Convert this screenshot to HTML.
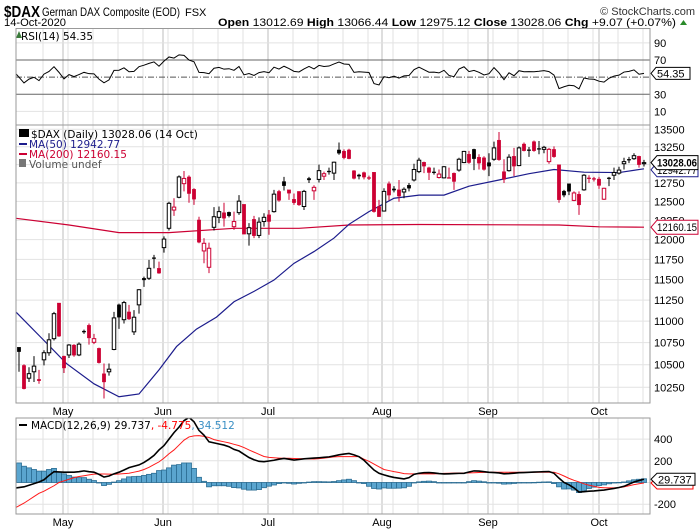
<!DOCTYPE html>
<html><head><meta charset="utf-8"><style>
body{margin:0;background:#fff;}
svg{display:block;font-family:"Liberation Sans",Arial,sans-serif;}
</style></head><body>
<svg id="chart" width="700" height="530" viewBox="0 0 700 530" xmlns="http://www.w3.org/2000/svg">
<g>
<text x="4" y="17" font-size="16" font-weight="bold" textLength="36" lengthAdjust="spacingAndGlyphs">$DAX</text>
<text x="42" y="16" font-size="12" textLength="138" lengthAdjust="spacingAndGlyphs">German DAX Composite (EOD)</text>
<text x="185" y="16" font-size="11">FSX</text>
<text x="695" y="15" font-size="11" text-anchor="end" fill="#333">© StockCharts.com</text>
<text x="4" y="26" font-size="11" textLength="62" lengthAdjust="spacingAndGlyphs">14-Oct-2020</text>
<text x="218" y="26" font-size="11" textLength="458" lengthAdjust="spacingAndGlyphs"><tspan font-weight="bold">Open</tspan> 13012.69 <tspan font-weight="bold">High</tspan> 13066.44 <tspan font-weight="bold">Low</tspan> 12975.12 <tspan font-weight="bold">Close</tspan> 13028.06 <tspan font-weight="bold">Chg</tspan> +9.07 (+0.07%)</text>
<path d="M680,25 L687,25 L683.5,20 Z" fill="#2a8a2a"/>
</g>
<g id="grid"></g>
<g id="rsi"></g>
<g id="main"></g>
<g id="macd"></g>
<g id="frames"></g>
</svg>
<script>
// ---- data ----
const opens=[10698,10492,10350,10421,10337,10555,10635,10796,11215,10597,10610,10723,10610,10884,10951,10754,10685,10400,10421,10672,11193,11017,11109,10875,11193,11515,11515,11772,11638,11898,12146,12385,12555,12739,12831,12663,12255,11856,11651,12159,12289,12351,12356,12167,12351,12461,12075,12263,12054,12234,12322,12364,12634,12768,12655,12529,12634,12432,12810,12642,12797,12841,12912,12883,13206,13189,13206,12917,12858,12891,12823,12896,12432,12372,12739,12668,12655,12626,12718,12789,12904,13034,12958,12900,12823,12818,12823,12883,12925,13029,13146,13214,13104,13096,13029,13075,13345,12904,12917,13117,12987,13290,13210,13324,13227,13214,13042,13214,13000,12638,12739,12513,12597,12655,12818,12810,12802,12529,12818,12854,12883,13013,13075,13083,13117,13012.69];
const highs=[10698,10505,10471,10597,10442,10664,10859,11109,11215,10601,10733,10733,10754,10901,10972,10851,10693,10513,10513,11109,11207,11241,11193,11130,11383,11536,11743,11806,11722,12041,12495,12542,12852,12912,12852,12676,12297,12020,11961,12424,12432,12482,12364,12364,12584,12461,12213,12309,12289,12343,12385,12655,12655,12831,12655,12605,12634,12655,12831,12718,13000,12904,12958,13042,13311,13214,13222,12925,12875,12904,12849,12896,12521,12676,12768,12705,12789,12689,12747,13013,13096,13042,12971,12958,12933,12979,12958,12891,13096,13193,13193,13222,13146,13117,13159,13324,13462,13075,13146,13235,13256,13311,13248,13340,13332,13264,13235,13256,13000,12655,12739,12634,12634,12870,12854,12831,12831,12684,12831,12958,12971,13096,13109,13159,13125,13066.44];
const lows=[10421,10227,10308,10308,10288,10492,10601,10775,10817,10408,10576,10589,10597,10851,10727,10733,10513,10128,10379,10664,10909,10972,11014,10838,11088,11410,11494,11638,11570,11835,12117,12309,12542,12634,12482,12453,11953,11701,11578,12117,12213,12167,12289,12125,12322,12070,11924,12020,12020,12167,12062,12351,12495,12647,12521,12453,12440,12385,12747,12521,12755,12789,12862,12789,13138,13075,13075,12797,12797,12797,12789,12351,12297,12364,12513,12621,12495,12542,12634,12768,12883,12883,12789,12862,12810,12810,12810,12655,12904,13021,13013,12925,12933,12917,12841,13054,13054,12747,12904,12841,12979,13185,13109,13180,13146,13159,13013,13096,12482,12555,12584,12503,12322,12642,12747,12768,12668,12521,12705,12789,12862,12933,13021,13067,12958,12975.12];
const closes=[10647,10233,10400,10484,10321,10635,10783,11088,10825,10463,10723,10606,10733,10872,10804,10796,10522,10308,10450,11038,11046,11220,11025,11046,11375,11494,11638,11760,11578,12007,12474,12424,12831,12810,12605,12529,11966,11953,11890,12297,12364,12276,12309,12234,12503,12070,12154,12049,12226,12289,12234,12597,12513,12710,12609,12482,12453,12634,12789,12689,12917,12875,12904,13034,13159,13096,13083,12810,12841,12828,12814,12364,12297,12634,12584,12651,12571,12663,12676,12933,13062,12979,12891,12895,12870,12971,12810,12768,13075,13185,13029,13083,13021,12933,12979,13235,13067,12797,13104,12979,13235,13193,13197,13193,13214,13243,13214,13109,12521,12584,12634,12613,12453,12854,12810,12797,12714,12676,12810,12891,12925,13042,13067,13125,13000,13028.06];
const ma50Idx=[0,5,9.5,15,20,24,28,31.5,35.5,39.5,43,47,51,55,59,63,66,70,75,80,85,90,96,102,107,113,120,125];
const ma50Val=[11107,10775,10513,10288,10147,10177,10442,10705,10907,11047,11230,11355,11493,11700,11848,12020,12198,12364,12542,12584,12584,12705,12789,12875,12933,12896,12891,12942.77];
const ma200Idx=[0,10,20,30,43,56,66,80,108,116,125];
const ma200Val=[12276,12189,12090,12090,12146,12146,12189,12195,12189,12165,12160.15];
const macdVals=[-50,-40,-25,-10,5,25,65,100,97,95,95,95,100,107,100,95,75,50,60,80,95,115,137,150,162,185,215,250,300,340,400,460,510,570,600,560,480,436,375,365,355,345,330,305,290,260,230,210,195,192,198,205,215,222,215,207,212,218,222,225,228,232,236,245,255,262,268,255,238,205,160,115,85,70,57,47,40,33,45,75,85,90,92,88,82,79,80,82,84,85,97,107,105,100,94,92,88,80,82,86,90,92,94,96,98,100,101,85,40,0,-21,-50,-88,-85,-80,-78,-73,-70,-62,-55,-46,-35,-15,5,18,29.737];
const signalVals=[-230,-190,-160,-130,-100,-80,-55,-30,0,15,30,45,55,62,70,77,78,78,77,76,78,82,85,95,105,120,140,165,190,225,265,300,345,390,420,430,432,425,415,395,385,375,365,352,340,322,300,280,260,240,232,228,225,223,223,221,220,219,218,217,220,225,230,236,238,238,238,238,238,215,195,170,145,120,110,100,92,82,80,79,79,79,79,80,82,84,85,86,87,88,89,90,92,93,95,95,95,95,95,95,95,95,95,95,95,95,95,95,80,60,38,20,5,-12,-25,-35,-45,-48,-50,-50,-47,-40,-30,-20,-12,-4.775];
const priceTicks=[10250,10500,10750,11000,11250,11500,11750,12000,12250,12500,12750,13000,13250,13500];
const rsiTicks=[90,70,50,30,10];
const macdTicks=[400,200,-200];
const monthLabels=["May","Jun","Jul","Aug","Sep","Oct"];
const monthIdx=[8.8,28.8,49.8,72.6,93.8,116];
const rsiSeedGain=70, rsiSeedLoss=60;

// ---- scales ----
const NS="http://www.w3.org/2000/svg";
const L=16,R=650;
const LEGF='"DejaVu Sans",Verdana,sans-serif';
const xOf=i=>19+5*i;
const yP=p=>129.3+(Math.log(13500)-Math.log(p))*936.7;
const yR=v=>60+(70-v)*0.857;
const yM=v=>482.5-v*0.1085;
function mk(tag,attrs,parent){const e=document.createElementNS(NS,tag);for(const k in attrs)e.setAttribute(k,attrs[k]);parent.appendChild(e);return e;}
const grid=document.getElementById('grid'),rsiG=document.getElementById('rsi'),mainG=document.getElementById('main'),macdG=document.getElementById('macd'),frames=document.getElementById('frames');
const RED="#cc0033";

// vertical grid
const panels=[[28.5,125],[125,403],[418,514]];
for(let k=0;k<27;k++){const x=43+25*k; if(x>=R)break;
 panels.forEach(p=>{const l=mk('line',{x1:x,x2:x,y1:p[0],y2:p[1],stroke:'#e2e2e2','stroke-width':1},grid);
 
 });}
monthIdx.forEach((mi,k)=>{const x=xOf(mi);
 panels.forEach(p=>{const l=mk('line',{x1:x,x2:x,y1:p[0],y2:p[1],stroke:'#bdbdbd','stroke-width':1},grid);
 
 });
 [411,522].forEach(yy=>{const t=mk('text',{x:x,y:yy+4,'font-size':11,'text-anchor':'middle'},grid);t.textContent=monthLabels[k];
 
 });
});
// RSI
rsiTicks.forEach(v=>{const y=yR(v);
 const st=(v==70||v==30)?{stroke:'#666'}:(v==50?{stroke:'#555','stroke-dasharray':'6,2,1,2'}:{stroke:'#e2e2e2'});
 const l=mk('line',Object.assign({x1:L,x2:R,y1:y,y2:y,'stroke-width':1},st),rsiG);
 
 
 if(v!=50){const t=mk('text',{x:654,y:y+4,'font-size':11},rsiG);t.textContent=v;
 
 }
});
let ag=rsiSeedGain,al=rsiSeedLoss;const rsi=[100-100/(1+ag/al)];
for(let i=1;i<closes.length;i++){const d=closes[i]-closes[i-1];ag=(ag*13+Math.max(d,0))/14;al=(al*13+Math.max(-d,0))/14;rsi.push(100-100/(1+ag/al));}
const rp=mk('polyline',{points:rsi.map((v,i)=>(i==0?L:xOf(i))+','+yR(v)).join(' '),fill:'none',stroke:'#000','stroke-width':1},rsiG);


const rl=mk('text',{x:21,y:40,'font-size':10.5,'font-family':LEGF},rsiG);rl.textContent='RSI(14) '+rsi[rsi.length-1].toFixed(2);


const rb=mk('path',{d:`M651,${yR(rsi[rsi.length-1])} l5,-6 h34 v12 h-34 z`,fill:'#fff',stroke:'#000'},rsiG);


const rt=mk('text',{x:657,y:yR(rsi[rsi.length-1])+4,'font-size':11},rsiG);rt.textContent=rsi[rsi.length-1].toFixed(2);


const ri=mk('path',{d:'M16,38 l3,-7 l3,7 z',fill:'#3a7a3a'},rsiG);



// main
priceTicks.forEach(v=>{const y=yP(v);
 const l=mk('line',{x1:L,x2:R,y1:y,y2:y,stroke:'#e2e2e2','stroke-width':1},grid);
 
 
 const t=mk('text',{x:654,y:y+4,'font-size':11},mainG);t.textContent=v;
 
 
});
function maLine(idx,val,col,name){const p=mk('polyline',{points:idx.map((ix,k)=>(ix==0?L:xOf(ix))+','+yP(val[k])).join(' '),fill:'none',stroke:col,'stroke-width':1.2},mainG);
 
 }
maLine(ma200Idx,ma200Val,RED,'ma200-line');
maLine(ma50Idx,ma50Val,'#1c1c8c','ma50-line');
for(let i=0;i<closes.length;i++){
 const o=opens[i],c=closes[i],h=highs[i],lo=lows[i];
 const col=(i>0&&c<closes[i-1])?RED:'#000';const filled=c<o;
 const x=xOf(i);
 const w=mk('line',{x1:x,x2:x,y1:yP(h),y2:yP(lo),stroke:col,'stroke-width':1},mainG);
 
 
 const top=yP(Math.max(o,c)),bot=yP(Math.min(o,c));
 const b=mk('rect',{x:x-1.75,y:top,width:3.5,height:Math.max(bot-top,1),fill:filled?col:'#fff',stroke:col,'stroke-width':filled?0.3:1},mainG);
 
 
}
function valBox(g,y,txt,col,bold,name){const wd=41;
 const p=mk('path',{d:`M651,${y} l6,-7 h${wd} v14 h-${wd} z`,fill:'#fff',stroke:col},g);
 
 
 const t=mk('text',{x:657,y:y+4,'font-size':11,'font-weight':bold?'bold':'normal',textLength:40,lengthAdjust:'spacingAndGlyphs'},g);t.textContent=txt;
 
 }
valBox(mainG,yP(ma50Val[ma50Val.length-1])+1,ma50Val[ma50Val.length-1].toFixed(2),'#1c1c8c',false,'ma50-value');
valBox(mainG,yP(closes[closes.length-1]),closes[closes.length-1].toFixed(2),'#000',true,'close-value');
valBox(mainG,yP(ma200Val[ma200Val.length-1]),ma200Val[ma200Val.length-1].toFixed(2),RED,false,'ma200-value');
const lg=[['$DAX (Daily) 13028.06 (14 Oct)','#000',138,'price-legend'],['MA(50) 12942.77','#1c1c8c',148,'ma50-legend'],['MA(200) 12160.15',RED,158,'ma200-legend'],['Volume undef','#555',168,'volume-legend']];
lg.forEach((e,k)=>{const t=mk('text',{x:k==0?31:29,y:e[2],'font-size':10.5,fill:e[1],'font-family':LEGF},mainG);t.textContent=e[0];
 
 
 if(k==1||k==2){const l=mk('line',{x1:19,x2:27,y1:e[2]-4,y2:e[2]-4,stroke:e[1],'stroke-width':2},mainG);
 
 }
 if(k==3||k==0){const r=mk('rect',{x:19,y:e[2]-9,width:k==0?10:7,height:8,fill:k==0?'#000':'#777'},mainG);
 
 }
});

// MACD
[400,200,0,-200].forEach(v=>{const l=mk('line',{x1:L,x2:R,y1:yM(v),y2:yM(v),stroke:'#e2e2e2','stroke-width':1},grid);
 
 });
macdTicks.forEach(v=>{const t=mk('text',{x:654,y:yM(v)+4,'font-size':11},macdG);t.textContent=v;
 
 });
const cp=mk('clipPath',{id:'mclip'},macdG);mk('rect',{x:L,y:418,width:R-L,height:96},cp);
const mg=mk('g',{'clip-path':'url(#mclip)'},macdG);
for(let i=0;i<macdVals.length;i++){const hv=macdVals[i]-signalVals[i];const x=xOf(i);const y0=yM(0),y1=yM(hv);
 const r=mk('rect',{x:x-2.5,y:Math.min(y0,y1),width:5,height:Math.max(Math.abs(y1-y0),0.5),fill:'#5aa5cf',stroke:'#2b6d93','stroke-width':0.8},mg);
 
 }
const sl=mk('polyline',{points:signalVals.map((v,i)=>(i==0?L:xOf(i))+','+yM(v)).join(' '),fill:'none',stroke:'#ff1a1a','stroke-width':1},mg);


const ml=mk('polyline',{points:macdVals.map((v,i)=>(i==0?L:xOf(i))+','+yM(v)).join(' '),fill:'none',stroke:'#000','stroke-width':1.6},mg);


const lastM=macdVals[macdVals.length-1],lastS=signalVals[signalVals.length-1];
const sb=mk('path',{d:`M651,${yM(lastS)} l6,-6 h36 v12 h-36 z`,fill:'#fff',stroke:'#f00'},macdG);


const mb=mk('path',{d:`M651,${yM(lastM)} l6,-6 h38 v12 h-38 z`,fill:'#fff',stroke:'#000'},macdG);


const mt=mk('text',{x:658,y:yM(lastM)+4,'font-size':11},macdG);mt.textContent=lastM.toFixed(3);


const ll=mk('line',{x1:19,x2:27,y1:425,y2:425,stroke:'#000','stroke-width':2},macdG);


const mlt=mk('text',{x:31,y:429,'font-size':10.5,'font-family':LEGF},macdG);


mlt.innerHTML=`MACD(12,26,9) ${lastM.toFixed(3)}<tspan fill="#f00">, ${lastS.toFixed(3)}</tspan><tspan fill="#3a8fc4">, ${(lastM-lastS).toFixed(3)}</tspan>`;

// frames
[[28.5,125],[125,403],[418,514]].forEach(p=>{const r=mk('rect',{x:L,y:p[0],width:R-L,height:p[1]-p[0],fill:'none',stroke:'#999','stroke-width':1},frames);
 
 });
</script>
</body></html>
